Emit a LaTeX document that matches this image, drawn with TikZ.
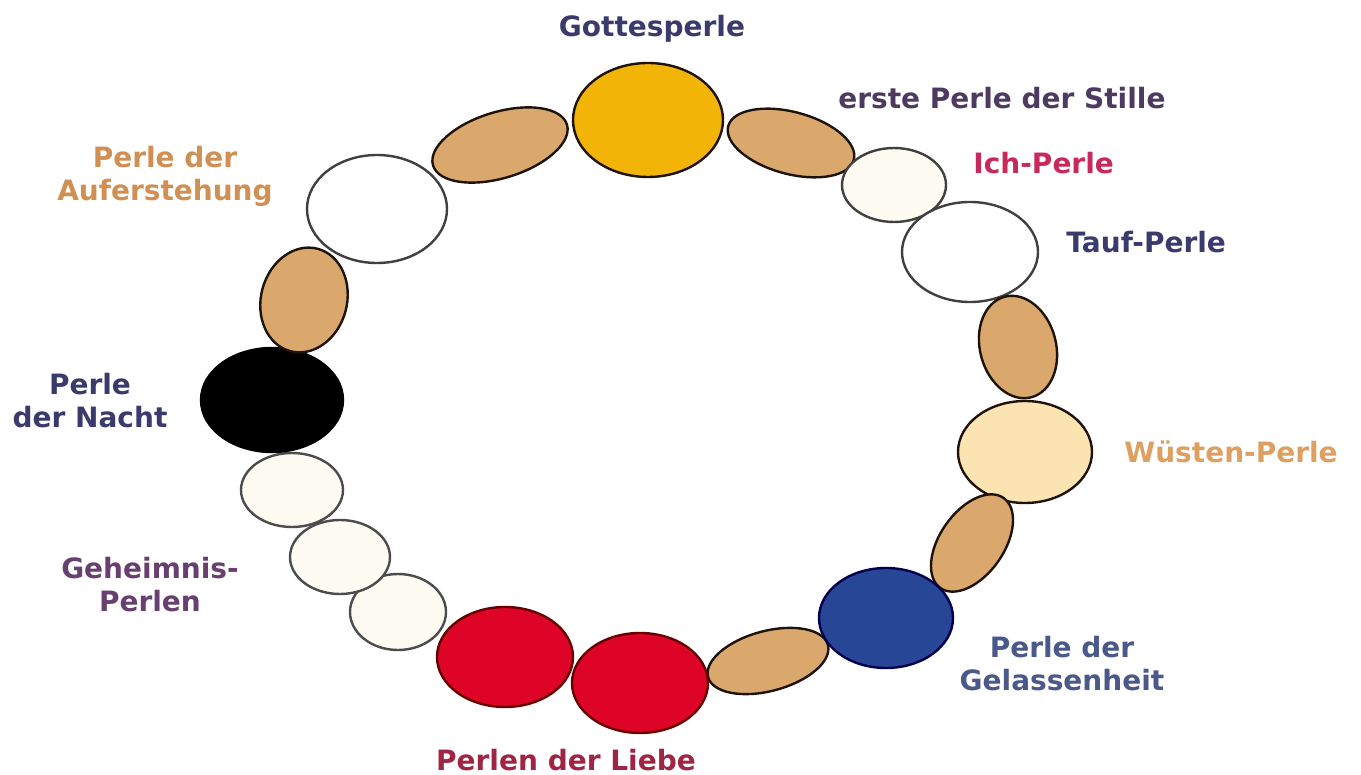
\documentclass[tikz,border=0pt]{standalone}
\usepackage{fontspec}
\setmainfont{DejaVu Sans}
\usetikzlibrary{shapes.geometric}
\definecolor{tan}{RGB}{218,168,108}
\definecolor{cream}{RGB}{253,251,242}
\definecolor{gold}{RGB}{243,180,8}
\definecolor{desert}{RGB}{251,228,178}
\definecolor{navyb}{RGB}{40,70,150}
\definecolor{redb}{RGB}{222,4,40}
\definecolor{tnavy}{RGB}{58,58,108}
\definecolor{tpurple}{RGB}{78,58,96}
\definecolor{tcrimson}{RGB}{200,40,90}
\definecolor{torange}{RGB}{222,160,96}
\definecolor{tslate}{RGB}{74,88,138}
\definecolor{tred}{RGB}{160,36,68}
\definecolor{tplum}{RGB}{104,64,112}
\definecolor{ttan}{RGB}{208,144,84}
\tikzset{
  bead/.style={ellipse, inner sep=0pt, line width=1.2pt, draw=black!85!brown},
  lbl/.style={font=\fontsize{14}{16.5}\selectfont\bfseries, align=center, inner sep=0pt}
}
\begin{document}
\begin{tikzpicture}[x=0.5pt,y=-0.5pt]
\useasboundingbox (0,0) rectangle (1361,775);
% beads
\node[bead, fill=tan, minimum width=70pt, minimum height=33pt, rotate=17] (bl1) at (500,145) {};
\node[bead, fill=tan, minimum width=65pt, minimum height=31pt, rotate=-15] (br1) at (791,143) {};
\node[bead, fill=gold, minimum width=75pt, minimum height=57pt] (gottes) at (648,120) {};
\node[bead, fill=cream, draw=black!75, minimum width=52pt, minimum height=37pt] (ich) at (894,185) {};
\node[bead, fill=white, draw=black!75, minimum width=68pt, minimum height=50pt] (tauf) at (970,252) {};
\node[bead, fill=tan, minimum width=52pt, minimum height=38pt, rotate=105] (br2) at (1018,347) {};
\node[bead, fill=desert, minimum width=67pt, minimum height=51pt] (wueste) at (1025,452) {};
\node[bead, fill=tan, minimum width=55pt, minimum height=32pt, rotate=55] (br3) at (972,543) {};
\node[bead, fill=tan, minimum width=62pt, minimum height=30pt, rotate=15] (bb1) at (768,661) {};
\node[bead, fill=navyb, draw=black!70!blue, minimum width=67pt, minimum height=50pt] (gelassen) at (886,618) {};
\node[bead, fill=redb, draw=black!60!red, minimum width=68pt, minimum height=50pt] (liebe2) at (640,683) {};
\node[bead, fill=redb, draw=black!60!red, minimum width=68pt, minimum height=50pt] (liebe1) at (505,657) {};
\node[bead, fill=cream, draw=black!70, minimum width=48pt, minimum height=38pt] (geh3) at (398,612) {};
\node[bead, fill=cream, draw=black!70, minimum width=50pt, minimum height=37pt] (geh2) at (340,557) {};
\node[bead, fill=cream, draw=black!70, minimum width=51pt, minimum height=37pt] (geh1) at (292,490) {};
\node[bead, fill=black, draw=black, minimum width=71pt, minimum height=52pt] (nacht) at (272,400) {};
\node[bead, fill=tan, minimum width=53pt, minimum height=43pt, rotate=75] (bl2) at (304,300) {};
\node[bead, fill=white, draw=black!75, minimum width=70pt, minimum height=54pt] (aufer) at (377,209) {};
% labels
\node[lbl, text=tnavy] (tgottes) at (652,29) {Gottesperle};
\node[lbl, text=tpurple, anchor=west] (tstille) at (838,98) {erste Perle der Stille};
\node[lbl, text=tcrimson, anchor=west] (tich) at (973,163) {Ich-Perle};
\node[lbl, text=tnavy, anchor=west] (ttauf) at (1066,242) {Tauf-Perle};
\node[lbl, text=torange, anchor=west] (twueste) at (1124,452) {Wüsten-Perle};
\node[lbl, text=tslate] (tgelassen) at (1062,664) {Perle der\\Gelassenheit};
\node[lbl, text=tred] (tliebe) at (566,760) {Perlen der Liebe};
\node[lbl, text=tplum] (tgeh) at (150,585) {Geheimnis-\\Perlen};
\node[lbl, text=tnavy] (tnacht) at (90,401) {Perle\\der Nacht};
\node[lbl, text=ttan] (taufer) at (165,176) {Perle der\\Auferstehung};
\end{tikzpicture}
\end{document}
